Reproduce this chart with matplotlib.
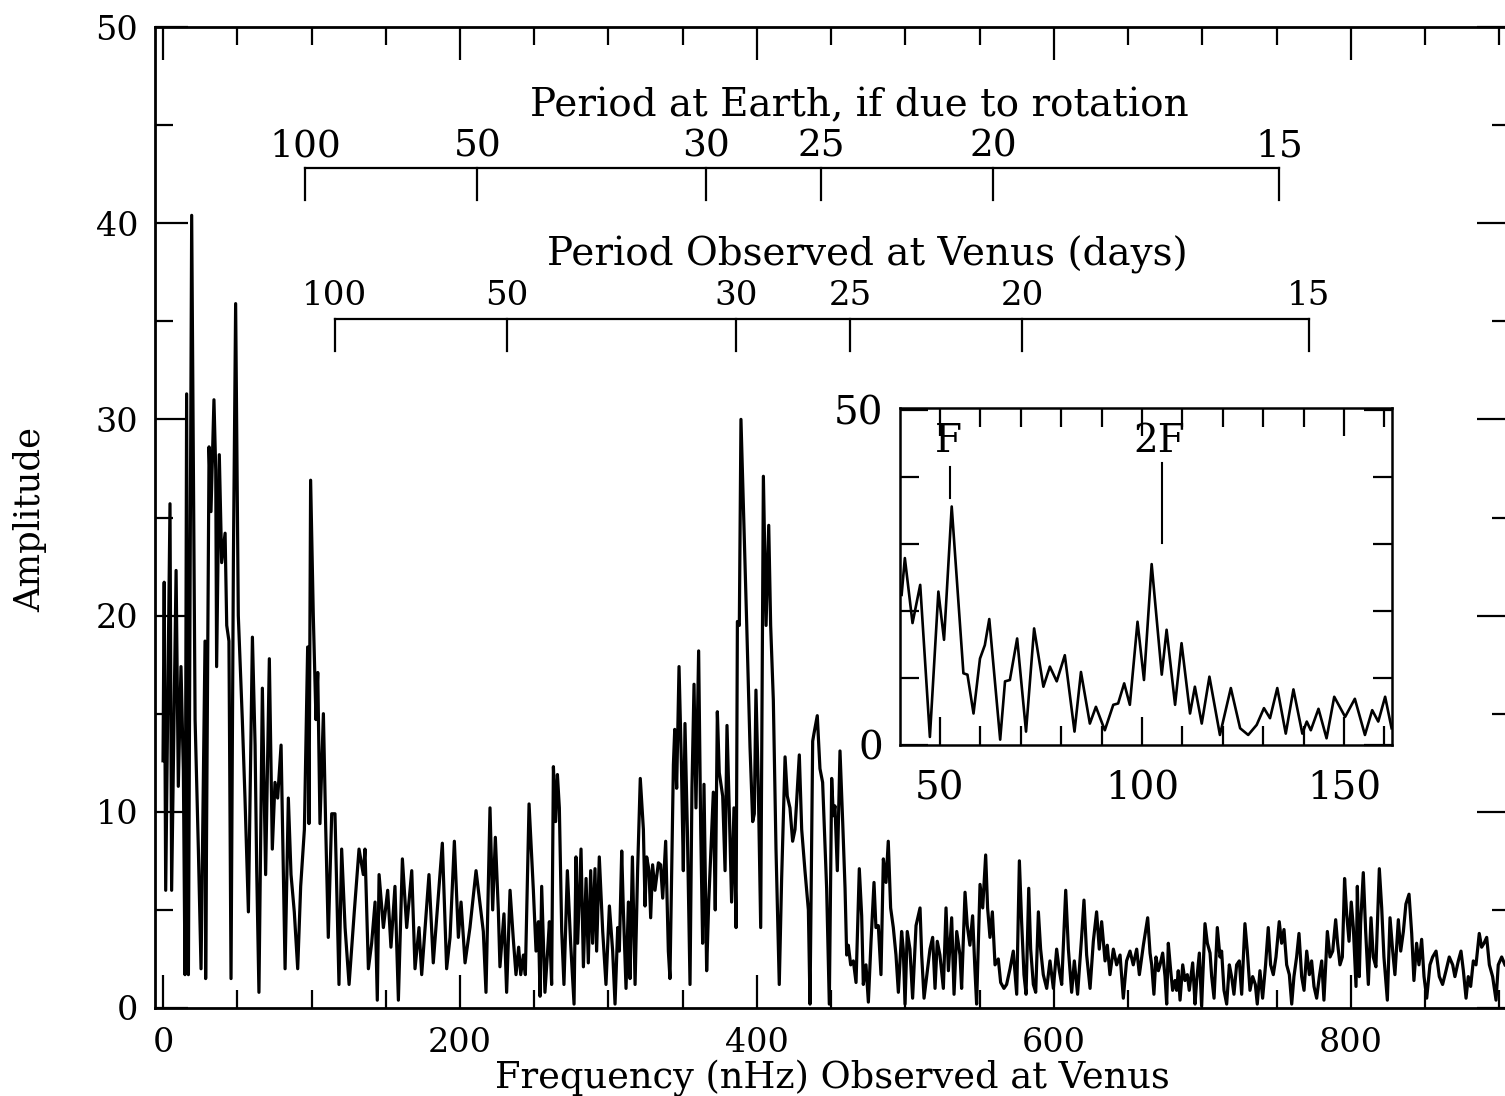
import numpy as np
import matplotlib
matplotlib.use('Agg')
import matplotlib.pyplot as plt
from matplotlib.ticker import MultipleLocator, FixedLocator

plt.rcParams['font.family'] = ['DejaVu Serif']

# amplitude spectrum, in pieces (frequency in nHz)
freq_low = [0.0, 0.8, 1.8, 4.7, 5.8, 8.8, 10.3, 12.1, 13.7, 14.8, 15.9, 17.1, 19.3, 21.6, 23.8, 25.6,
            28.3, 28.7, 31.0, 32.3, 34.3, 35.5, 36.1, 37.9, 39.5, 41.8, 42.9, 44.4, 45.8, 47.4, 48.9,
            50.7, 53.4, 55.2, 57.5, 60.2, 62.0, 63.1, 64.6, 66.9, 69.1, 71.6, 73.6, 75.4, 77.2, 79.5,
            82.2, 84.4, 86.2, 88.4, 90.7, 92.7, 95.2, 97.4, 98.3, 99.4, 101.2, 103.0, 104.2, 105.7,
            108.0, 109.5, 111.3, 113.6, 115.8, 118.5, 120.3, 122.6, 125.3, 128.8, 132.0, 134.9, 136.0,
            138.3, 140.5, 142.8, 144.3, 145.5, 148.4, 151.3, 153.5, 156.2, 158.5, 161.2, 164.1, 167.5,
            169.7, 172.4, 174.2, 179.1, 182.0, 185.4, 188.1, 191.0, 193.3, 196.2, 198.9, 200.7, 203.4,
            206.7, 210.8]
amp_low = [12.6, 21.7, 6.0, 25.7, 6.0, 22.3, 11.3, 17.4, 12.1, 1.7, 31.3, 1.7, 40.4, 14.7, 8.1, 2.0,
           18.7, 1.5, 28.6, 25.3, 31.0, 27.4, 17.4, 28.2, 22.7, 24.2, 19.5, 18.7, 1.5, 22.9, 35.9,
           20.0, 14.7, 10.7, 4.9, 18.9, 13.4, 7.0, 0.8, 16.3, 6.8, 17.8, 8.1, 11.5, 10.7, 13.4,
           2.0, 10.7, 6.8, 4.9, 2.0, 6.2, 9.1, 18.4, 9.4, 26.9, 20.0, 14.7, 17.1, 9.4,
           15.0, 9.4, 3.6, 9.9, 9.9, 1.2, 8.1, 4.1, 1.2, 4.9, 8.1, 6.8, 8.1,
           2.0, 3.3, 5.4, 0.4, 6.8, 4.1, 6.0, 3.1, 6.2, 0.4, 7.6, 4.1, 7.0,
           2.0, 4.1, 1.7, 6.8, 2.3, 5.7, 8.4, 2.0, 3.6, 8.5, 3.6, 5.4, 2.3,
           4.1, 7.0]

freq_mid = [215.7, 217.5, 220.2, 222.0, 223.8, 225.8, 226.9, 229.6, 231.4, 233.7, 235.9, 237.7, 239.5,
            240.9, 242.7, 244.0, 246.5, 249.4, 251.2, 252.8, 253.9, 255.0, 257.2, 259.0, 260.2, 261.7,
            262.9, 264.4, 265.6, 266.9, 268.5, 270.0, 272.3, 274.5, 276.8, 278.1, 279.2, 281.5, 283.1,
            284.9, 286.4, 288.0, 289.3, 290.9, 292.0, 293.8, 296.1, 298.3, 300.6, 302.8, 304.4, 306.2,
            307.3, 308.9, 310.0, 311.8, 313.4, 314.5, 316.1, 317.9, 319.6, 321.4, 323.5, 324.6, 325.7,
            327.3, 328.4, 329.7, 331.3, 333.6, 335.1, 336.5, 338.5, 340.3, 341.4, 343.7, 344.6, 345.9,
            347.5, 349.1, 350.4, 351.5, 353.1, 354.9, 356.2, 357.6, 358.9, 360.7, 362.1, 363.4, 364.3,
            366.1, 367.5, 370.6, 371.9, 373.3, 374.6, 376.9, 378.5, 379.8, 381.4, 382.9, 384.5, 385.9,
            386.8, 388.1, 389.2, 390.8, 393.1, 395.3, 397.1, 398.2, 399.3, 400.9, 402.5, 404.3, 406.1,
            407.9, 409.2, 411.0, 412.8, 415.0, 416.6, 418.9, 420.4, 422.2, 424.0, 425.6, 428.5, 430.1,
            432.3, 434.6]
amp_mid = [3.9, 0.8, 10.2, 5.0, 8.7, 5.0, 2.1, 4.8, 0.8, 6.0, 3.5, 1.7, 3.1,
           1.7, 2.7, 1.7, 10.4, 6.0, 2.9, 4.4, 0.6, 6.2, 0.8, 2.9, 4.4, 1.2,
           12.3, 9.5, 11.9, 10.2, 3.9, 1.2, 7.0, 3.3, 0.2, 7.7, 3.3, 8.1, 2.1,
           6.6, 2.3, 7.0, 3.3, 7.1, 2.9, 7.7, 3.9, 1.2, 5.2, 2.9, 0.2, 4.1,
           2.9, 8.0, 5.0, 1.0, 5.4, 1.5, 7.7, 1.2, 7.0, 11.7, 9.1, 5.2, 7.7,
           7.0, 4.6, 7.3, 6.0, 7.4, 7.3, 5.6, 8.5, 2.9, 1.5, 12.4, 14.2, 11.2,
           17.4, 12.4, 7.0, 14.5, 9.1, 1.2, 11.2, 16.5, 10.2, 18.2, 9.1, 3.3, 11.4,
           1.9, 5.4, 11.0, 5.0, 15.1, 12.0, 10.8, 7.0, 14.4, 9.9, 5.4, 10.2, 4.1,
           19.7, 19.5, 30.0, 25.7, 19.5, 13.3, 9.5, 9.9, 16.2, 11.2, 4.1, 27.1, 19.5,
           24.6, 19.5, 15.7, 8.1, 1.2, 6.6, 12.8, 10.8, 10.2, 8.5, 9.1, 12.9, 9.1,
           7.0, 5.0]

freq_high = [435.7, 437.5, 438.4, 440.6, 442.4, 444.2, 445.1, 446.9, 448.7, 450.3, 451.4, 452.5, 454.1,
             455.9, 457.7, 459.3, 460.4, 461.5, 463.1, 464.9, 466.7, 468.9, 470.5, 471.6, 473.4, 475.0,
             476.8, 478.8, 480.1, 481.7, 483.5, 485.1, 486.9, 488.4, 490.0, 491.8, 493.6, 495.2, 497.4,
             498.5, 499.7, 501.2, 503.0, 504.8, 507.1, 509.8, 510.9, 512.5, 514.7, 516.5, 518.3, 519.9,
             521.4, 523.2, 525.5, 527.3, 528.9, 531.1, 532.7, 534.5, 536.7, 537.8, 540.1, 541.6, 543.4,
             545.2, 546.8, 547.9, 550.2, 552.0, 554.0, 555.3, 556.9, 558.5, 560.3, 562.5, 564.1, 566.3,
             568.1, 570.4, 572.6, 574.9, 576.7, 578.2, 579.8, 581.2, 583.0, 584.3, 586.1, 587.7, 589.5,
             591.0, 592.8, 595.1, 597.3, 599.6, 601.8, 603.6, 605.2, 607.9, 609.7, 611.9, 613.7, 615.9,
             618.6, 620.2, 622.0, 624.3, 626.5, 628.7, 630.5, 632.1, 634.4, 635.9, 637.7, 640.0, 642.2,
             644.5, 646.7, 648.9, 651.2, 653.4, 655.7, 657.5, 660.2, 663.1]
amp_high = [0.2, 13.6, 14.0, 14.9, 12.2, 11.5, 9.7, 6.1, 0.2, 11.7, 9.8, 10.3, 7.0,
            13.1, 9.5, 6.1, 2.7, 3.2, 2.2, 2.4, 1.3, 7.1, 4.7, 1.2, 2.2, 0.3,
            3.4, 6.4, 4.1, 4.2, 1.7, 7.6, 6.4, 8.5, 5.1, 4.1, 2.7, 0.8, 3.9,
            3.0, 0.2, 3.9, 3.0, 0.5, 4.2, 5.1, 2.7, 0.5, 1.9, 3.0, 3.6, 1.0,
            3.4, 2.7, 1.0, 5.1, 1.9, 4.6, 0.7, 3.9, 2.7, 1.0, 5.9, 4.2, 3.2,
            4.7, 1.9, 0.2, 6.3, 5.1, 7.8, 5.1, 3.6, 4.9, 2.2, 2.5, 1.3, 1.0,
            1.2, 2.0, 2.9, 0.7, 7.5, 4.4, 1.7, 0.7, 6.1, 3.0, 1.2, 0.8, 4.9,
            3.0, 1.7, 1.0, 2.4, 1.0, 3.0, 1.9, 1.2, 6.0, 3.0, 0.8, 2.4, 0.7,
            3.6, 5.5, 2.7, 1.0, 3.4, 4.9, 3.0, 4.4, 2.4, 3.2, 1.7, 3.0, 2.2,
            2.7, 0.5, 2.4, 2.9, 2.2, 3.0, 1.7, 3.2, 4.6]

freq_tail = [664.7, 665.8, 667.3, 668.7, 670.3, 671.4, 673.2, 674.8, 675.9, 677.0, 678.6, 679.9, 681.5,
             682.6, 683.7, 684.9, 686.7, 688.2, 689.8, 691.1, 693.4, 695.0, 696.1, 697.9, 699.4, 701.7,
             703.3, 705.1, 706.2, 707.8, 710.0, 711.8, 712.9, 714.5, 716.3, 718.1, 719.6, 721.2, 723.0,
             724.8, 726.4, 728.6, 730.2, 732.0, 733.8, 735.6, 736.9, 738.7, 740.5, 742.5, 744.3, 745.9,
             747.7, 749.5, 751.7, 753.3, 754.9, 756.7, 758.5, 760.1, 761.6, 763.4, 765.0, 766.8, 768.4,
             770.2, 772.0, 773.5, 775.1, 776.9, 778.7, 780.3, 781.8, 784.1, 785.9, 787.7, 789.7, 791.0,
             792.6, 794.2, 795.7, 797.1, 798.7, 800.2, 801.6, 803.4, 804.3, 805.6, 806.5, 808.3, 809.9,
             811.7, 813.5, 815.0, 816.8, 819.1, 820.7, 822.2, 824.5, 826.3, 828.1, 829.6, 831.9, 833.5,
             835.3, 837.0, 839.1, 840.9, 842.4, 844.2, 845.8, 847.6, 849.2, 851.0, 853.2, 855.0, 857.3,
             859.5, 861.7, 864.0, 866.2, 868.5, 870.0, 872.3, 874.1, 875.7, 877.5, 879.0, 880.6, 882.4,
             884.2, 886.4, 888.0, 889.6, 891.4, 893.2, 895.4, 897.7, 899.2, 901.5, 903.7]
amp_tail = [2.8, 2.2, 0.7, 2.6, 1.9, 2.2, 2.8, 1.6, 0.2, 3.3, 1.9, 0.9, 1.4,
            0.9, 1.9, 0.4, 2.2, 1.4, 1.7, 0.9, 2.3, 0.2, 1.4, 2.8, 0.1, 4.3,
            3.3, 2.8, 1.6, 0.5, 4.1, 2.6, 2.9, 0.9, 0.2, 2.2, 1.6, 0.7, 2.2,
            2.4, 0.7, 4.3, 2.9, 0.9, 1.6, 1.2, 0.2, 1.9, 0.5, 2.2, 4.1, 2.2,
            1.7, 2.6, 4.4, 3.3, 4.0, 2.2, 1.7, 0.2, 1.6, 2.6, 3.8, 1.6, 0.9,
            2.9, 1.7, 2.4, 1.1, 0.5, 1.6, 2.4, 0.4, 3.9, 2.6, 2.9, 4.5, 3.3,
            2.2, 2.6, 6.6, 4.8, 3.4, 5.4, 4.1, 1.1, 6.2, 1.6, 4.3, 6.9, 3.9,
            1.2, 4.6, 2.6, 2.1, 7.1, 5.1, 2.6, 0.4, 4.6, 2.9, 1.7, 4.5, 2.9,
            3.9, 5.3, 5.8, 3.8, 1.4, 3.3, 2.2, 3.5, 1.6, 0.5, 2.2, 2.6, 2.9,
            1.6, 1.2, 1.9, 2.6, 2.2, 1.6, 2.4, 2.9, 1.9, 0.5, 1.6, 1.1, 2.4,
            2.2, 3.8, 3.1, 3.3, 3.6, 2.2, 1.6, 0.4, 2.2, 2.6, 2.2]

# inset: zoom on 40-160 nHz
inset_freq = [40.5, 41.3, 43.2, 45.1, 47.5, 49.6, 51.0, 52.9, 55.8, 56.8, 58.3, 59.9, 61.1, 62.2, 64.9,
              66.1, 67.3, 69.1, 71.3, 73.3, 75.6, 77.2, 78.9, 80.9, 83.3, 84.9, 87.1, 88.6, 90.8, 92.9,
              94.1, 95.6, 97.0, 98.9, 100.5, 102.4, 104.9, 106.1, 108.2, 109.8, 111.9, 113.1, 114.8,
              116.7, 119.3, 122.0, 124.3, 126.3, 128.4, 130.2, 131.7, 133.5, 135.6, 137.5, 139.7, 140.8,
              141.8, 143.7, 145.7, 147.6, 150.3, 152.7, 155.2, 157.0, 158.5, 160.2, 161.8]
inset_amp = [22.4, 27.9, 18.2, 23.9, 1.2, 22.9, 15.7, 35.6, 10.7, 10.5, 4.7, 12.9, 14.9, 18.8, 0.8,
             9.5, 9.7, 15.9, 2.0, 17.4, 8.7, 11.7, 9.5, 13.4, 2.0, 10.9, 3.2, 5.7, 2.2, 6.0,
             6.2, 9.2, 6.0, 18.4, 9.7, 27.0, 10.5, 17.2, 6.0, 15.2, 4.7, 8.7, 3.2,
             10.2, 1.5, 8.5, 2.5, 1.5, 3.0, 5.5, 4.0, 8.5, 1.7, 8.3, 1.7, 3.5,
             2.2, 5.4, 1.0, 7.2, 4.2, 6.9, 1.5, 5.2, 3.5, 7.2, 2.5]

# period scales (days)
periods = [100, 50, 30, 25, 20, 15]
period_labels = ['100', '50', '30', '25', '20', '15']
venus_year = 224.70
earth_year = 365.256

F_nhz = 52.5

nhz_per_inv_day = 1e9 / 86400.0
venus_pos = [nhz_per_inv_day / p for p in periods]
offset = nhz_per_inv_day * (1 / venus_year - 1 / earth_year)
earth_pos = [nhz_per_inv_day / p - offset for p in periods]

freq = freq_low + freq_mid + freq_high + freq_tail
amp = amp_low + amp_mid + amp_high + amp_tail

W, H = 1505, 1096
fig = plt.figure(figsize=(W / 100, H / 100), dpi=100)
ax = fig.add_axes([155 / W, 88 / H, 1355 / W, 981 / H])
ax.plot(freq, amp, color='black', lw=2.3)
ax.set_xlim(-5.4, 907.1)
ax.set_ylim(0, 50)
ax.xaxis.set_major_locator(FixedLocator([0, 200, 400, 600, 800]))
ax.xaxis.set_minor_locator(MultipleLocator(50))
ax.yaxis.set_major_locator(MultipleLocator(10))
ax.yaxis.set_minor_locator(MultipleLocator(5))
ax.tick_params(which='both', direction='in', top=True, right=True, width=1.6, labelsize=24)
ax.tick_params(which='major', length=24)
ax.tick_params(which='minor', length=13)
ax.tick_params(axis='x', pad=14)
ax.tick_params(axis='y', pad=12)
for s in ax.spines.values():
    s.set_linewidth(2)

fig.text(30 / W, 1 - 520 / H, 'Amplitude', rotation=90, ha='center', va='center', fontsize=25.5)
fig.text(832 / W, 1 - 1087 / H, 'Frequency (nHz) Observed at Venus', ha='center', va='baseline',
         fontsize=26.5)

# period scales drawn inside the main panel
def period_scale(positions, y_line, y_tick, y_lab, lab_size, title, x_title, y_title):
    ax.plot([positions[0], positions[-1]], [y_line, y_line], color='black', lw=1.6)
    for x, lab in zip(positions, period_labels):
        ax.plot([x, x], [y_line, y_tick], color='black', lw=1.6)
        ax.text(x, y_lab, lab, ha='center', va='center', fontsize=lab_size)
    ax.text(x_title, y_title, title, ha='center', va='center', fontsize=28)

period_scale(earth_pos, 42.8, 41.2, 43.9, 27, 'Period at Earth, if due to rotation', 469, 46.0)
period_scale(venus_pos, 35.1, 33.5, 36.3, 24.5, 'Period Observed at Venus (days)', 474, 38.4)

# inset
axi = fig.add_axes([900 / W, (H - 745) / H, 492 / W, 337 / H])
axi.plot(inset_freq, inset_amp, color='black', lw=1.9)
axi.set_xlim(40.1, 161.9)
axi.set_ylim(0, 50.3)
axi.xaxis.set_major_locator(FixedLocator([50, 100, 150]))
axi.xaxis.set_minor_locator(MultipleLocator(10))
axi.yaxis.set_major_locator(FixedLocator([0, 50]))
axi.yaxis.set_minor_locator(FixedLocator([10, 20, 30, 40]))
axi.tick_params(which='both', direction='in', top=True, right=True, width=1.6, labelsize=28)
axi.tick_params(which='major', length=20)
axi.tick_params(which='minor', length=14)
axi.tick_params(axis='x', pad=18)
axi.tick_params(axis='y', pad=12)
for s in axi.spines.values():
    s.set_linewidth(1.8)

axi.plot([F_nhz, F_nhz], [36.9, 41.5], color='black', lw=1.5)
axi.plot([2 * F_nhz, 2 * F_nhz], [30.1, 42.1], color='black', lw=1.5)
axi.text(F_nhz - 0.5, 45.3, 'F', ha='center', va='center', fontsize=28)
axi.text(2 * F_nhz - 0.8, 45.3, '2F', ha='center', va='center', fontsize=28)

fig.savefig('out.png', dpi=100)
